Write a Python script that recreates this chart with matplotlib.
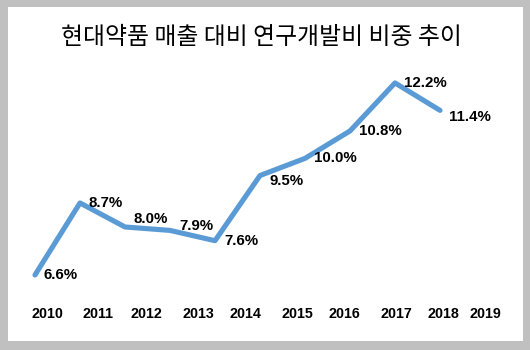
import matplotlib
matplotlib.use("Agg")
import matplotlib.pyplot as plt
from matplotlib.patches import Rectangle

years = ["2010", "2011", "2012", "2013", "2014", "2015", "2016", "2017", "2018", "2019"]
values = [6.6, 8.7, 8.0, 7.9, 7.6, 9.5, 10.0, 10.8, 12.2, 11.4]
labels = ["6.6%", "8.7%", "8.0%", "7.9%", "7.6%", "9.5%", "10.0%", "10.8%", "12.2%", "11.4%"]
title = "현대약품 매출 대비 연구개발비 비중 추이"

# layout: where the year labels sit (in point-index units) and label nudges (pixels)
tick_pos = [0.278, 1.40, 2.467, 3.622, 4.667, 5.833, 6.867, 8.033, 9.078, 10.011]
label_dy = [0, 0, 8, 4, 0, -5, 0, 0, 0, -7]

W, H = 530, 350
fig = plt.figure(figsize=(W / 100, H / 100), dpi=100, facecolor="#c0c0c0")
fig.patches.append(Rectangle((8 / W, 1 - 341 / H), (523 - 8) / W, (341 - 7) / H,
                             transform=fig.transFigure, facecolor="white",
                             edgecolor="none", zorder=-10))

ax = fig.add_axes([20 / W, 50 / H, 480 / W, 230 / H])
ax.set_zorder(5)
ax.set_facecolor("none")
x = list(range(len(values)))
ax.plot(x, values, color="#5b9bd5", lw=3.7, solid_capstyle="round",
        solid_joinstyle="round")
for xi, v, lab, dy in zip(x, values, labels, label_dy):
    ax.annotate(lab, (xi, v), xytext=(9, dy), textcoords="offset pixels",
                ha="left", va="center", fontsize=10.8, fontweight="bold",
                family="Liberation Sans", color="black")

ax.set_xlim(-0.333, 10.333)
ax.set_ylim(5.871, 12.577)
ax.set_xticks(tick_pos)
ax.set_xticklabels(years, fontsize=10.3, fontweight="bold", family="Liberation Sans")
ax.tick_params(axis="x", length=0, pad=5)
ax.set_yticks([])
for s in ax.spines.values():
    s.set_visible(False)

fig.text(261 / W, 1 - 38 / H, title, ha="center", va="center", fontsize=17.2,
         family=["Noto Sans CJK KR", "DejaVu Sans"], color="black", zorder=6)

fig.savefig("out.png", dpi=100, facecolor=fig.get_facecolor())
